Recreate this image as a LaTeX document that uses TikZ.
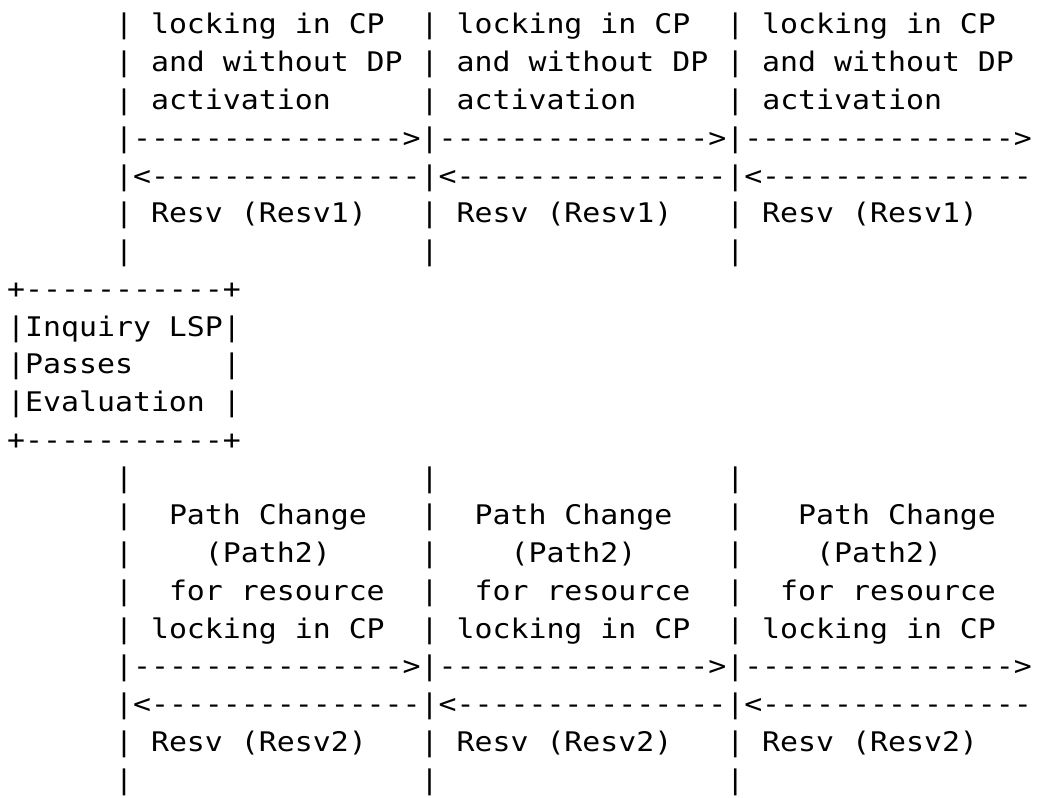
\documentclass[tikz,border=0pt]{standalone}
\usepackage{fontspec}
\setmonofont{DejaVu Sans Mono}[FakeStretch=1.106]
\newcommand\asciifont{\ttfamily\fontsize{27}{37.75}\selectfont\frenchspacing}
\begin{document}
\begin{tikzpicture}[x=1pt,y=1pt,
  asciiline/.style={anchor=base west, inner sep=0pt, outer sep=0pt, font=\asciifont, text=black}]
\fill[white] (0,0) rectangle (1040,-797);
\useasboundingbox (0,0) rectangle (1040,-797);
\def\lx{7.2}
% upper exchange
\node[asciiline] (l1)  at (\lx,-34.00)  {~~~~~~|~locking~in~CP~~|~locking~in~CP~~|~locking~in~CP};
\node[asciiline] (l2)  at (\lx,-71.75)  {~~~~~~|~and~without~DP~|~and~without~DP~|~and~without~DP};
\node[asciiline] (l3)  at (\lx,-109.50) {~~~~~~|~activation~~~~~|~activation~~~~~|~activation};
\node[asciiline] (l4)  at (\lx,-147.25) {~~~~~~|--------------->|--------------->|--------------->};
\node[asciiline] (l5)  at (\lx,-185.00) {~~~~~~|<---------------|<---------------|<---------------};
\node[asciiline] (l6)  at (\lx,-222.75) {~~~~~~|~Resv~(Resv1)~~~|~Resv~(Resv1)~~~|~Resv~(Resv1)};
\node[asciiline] (l7)  at (\lx,-260.50) {~~~~~~|~~~~~~~~~~~~~~~~|~~~~~~~~~~~~~~~~|};
% evaluation box
\node[asciiline] (l8)  at (\lx,-298.25) {+-----------+};
\node[asciiline] (l9)  at (\lx,-336.00) {|Inquiry~LSP|};
\node[asciiline] (l10) at (\lx,-373.75) {|Passes~~~~~|};
\node[asciiline] (l11) at (\lx,-411.50) {|Evaluation~|};
\node[asciiline] (l12) at (\lx,-449.25) {+-----------+};
% lower exchange
\node[asciiline] (l13) at (\lx,-487.00) {~~~~~~|~~~~~~~~~~~~~~~~|~~~~~~~~~~~~~~~~|};
\node[asciiline] (l14) at (\lx,-524.75) {~~~~~~|~~Path~Change~~~|~~Path~Change~~~|~~~Path~Change};
\node[asciiline] (l15) at (\lx,-562.50) {~~~~~~|~~~~(Path2)~~~~~|~~~~(Path2)~~~~~|~~~~(Path2)};
\node[asciiline] (l16) at (\lx,-600.25) {~~~~~~|~~for~resource~~|~~for~resource~~|~~for~resource};
\node[asciiline] (l17) at (\lx,-638.00) {~~~~~~|~locking~in~CP~~|~locking~in~CP~~|~locking~in~CP};
\node[asciiline] (l18) at (\lx,-675.75) {~~~~~~|--------------->|--------------->|--------------->};
\node[asciiline] (l19) at (\lx,-713.50) {~~~~~~|<---------------|<---------------|<---------------};
\node[asciiline] (l20) at (\lx,-751.25) {~~~~~~|~Resv~(Resv2)~~~|~Resv~(Resv2)~~~|~Resv~(Resv2)};
\node[asciiline] (l21) at (\lx,-789.00) {~~~~~~|~~~~~~~~~~~~~~~~|~~~~~~~~~~~~~~~~|};
\end{tikzpicture}
\end{document}
